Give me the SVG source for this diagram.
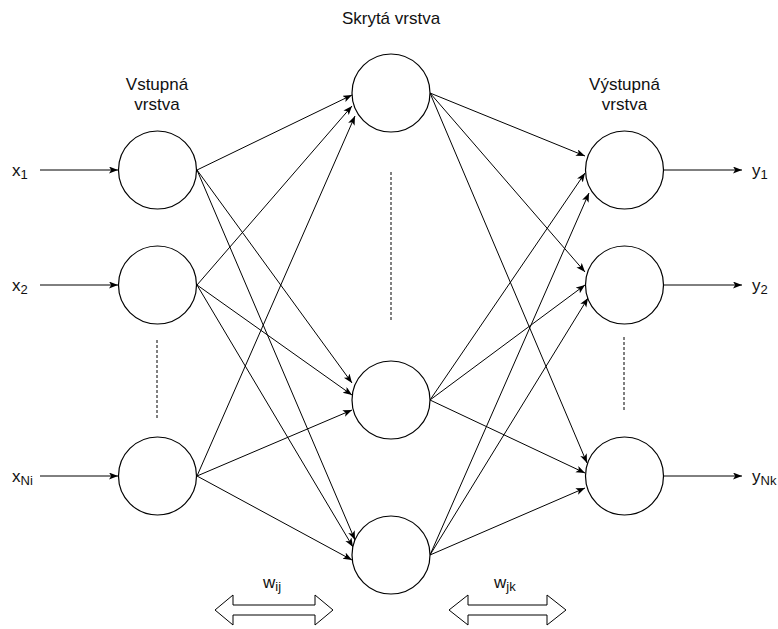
<svg xmlns="http://www.w3.org/2000/svg" width="778" height="629" viewBox="0 0 778 629">
<defs>
<marker id="arr" markerWidth="10" markerHeight="8" refX="9" refY="3.5" orient="auto" markerUnits="userSpaceOnUse"><path d="M0,0 L9,3.5 L0,7 L2.2,3.5 Z" fill="#000"/></marker>
</defs>
<style>
.n{fill:#fff;stroke:#000;stroke-width:1.2}
.e{fill:none;stroke:#000;stroke-width:1;marker-end:url(#arr)}
.d{fill:none;stroke:#000;stroke-width:1;stroke-dasharray:3 2}
.b{fill:#fff;stroke:#000;stroke-width:1}
text{font-family:"Liberation Sans",Arial,sans-serif;font-size:17px;fill:#111}
.m{text-anchor:middle}
.s{font-size:13px}
</style>
<rect width="778" height="629" fill="#fff"/>
<g id="connectors">
<line class="e" x1="40" y1="170" x2="118" y2="170"/>
<line class="e" x1="40" y1="285" x2="118" y2="285"/>
<line class="e" x1="40" y1="476" x2="118" y2="476"/>
<line class="e" x1="197" y1="170" x2="352" y2="95"/>
<line class="e" x1="197" y1="285" x2="352" y2="106"/>
<line class="e" x1="197" y1="476" x2="355" y2="116"/>
<line class="e" x1="197" y1="170" x2="352" y2="383"/>
<line class="e" x1="197" y1="285" x2="352" y2="395"/>
<line class="e" x1="197" y1="476" x2="352" y2="410"/>
<line class="e" x1="197" y1="170" x2="355" y2="540"/>
<line class="e" x1="197" y1="285" x2="353" y2="547"/>
<line class="e" x1="197" y1="476" x2="352" y2="560"/>
<line class="e" x1="430" y1="93" x2="585" y2="156"/>
<line class="e" x1="430" y1="400" x2="585" y2="173"/>
<line class="e" x1="430" y1="555" x2="589" y2="193"/>
<line class="e" x1="430" y1="93" x2="585" y2="272"/>
<line class="e" x1="430" y1="400" x2="585" y2="285"/>
<line class="e" x1="430" y1="555" x2="588" y2="298"/>
<line class="e" x1="430" y1="93" x2="587" y2="463"/>
<line class="e" x1="430" y1="400" x2="585" y2="473"/>
<line class="e" x1="430" y1="555" x2="585" y2="488"/>
<line class="e" x1="663" y1="170" x2="742" y2="170"/>
<line class="e" x1="663" y1="285" x2="742" y2="285"/>
<line class="e" x1="663" y1="476" x2="742" y2="476"/>
<line class="d" x1="157" y1="340" x2="157" y2="418"/>
<line class="d" x1="391" y1="172" x2="391" y2="322"/>
<line class="d" x1="624" y1="337" x2="624" y2="412"/>
</g>
<g id="in1"><circle class="n" cx="157.5" cy="170" r="39"/></g>
<g id="in2"><circle class="n" cx="157.5" cy="285" r="39"/></g>
<g id="inN"><circle class="n" cx="157.5" cy="476" r="39"/></g>
<g id="h1"><circle class="n" cx="391" cy="93" r="39"/></g>
<g id="h2"><circle class="n" cx="391" cy="400" r="39"/></g>
<g id="h3"><circle class="n" cx="391" cy="555" r="39"/></g>
<g id="out1"><circle class="n" cx="624.5" cy="170" r="39"/></g>
<g id="out2"><circle class="n" cx="624.5" cy="285" r="39"/></g>
<g id="outN"><circle class="n" cx="624.5" cy="476" r="39"/></g>
<g id="wij"><polygon class="b" points="215,610 233,595 233,605 315,605 315,595 333,610 315,625 315,615 233,615 233,625"/><text x="263" y="588">w<tspan class="s" dy="3">ij</tspan></text></g>
<g id="wjk"><polygon class="b" points="449,610 468,595 468,605 547,605 547,595 566,610 547,625 547,615 468,615 468,625"/><text x="494" y="588">w<tspan class="s" dy="3">jk</tspan></text></g>
<g id="labels">
<text class="m" x="391" y="24">Skrytá vrstva</text>
<text class="m" x="157" y="90">Vstupná</text>
<text class="m" x="157" y="110">vrstva</text>
<text class="m" x="624.5" y="90">Výstupná</text>
<text class="m" x="624.5" y="110">vrstva</text>
<text x="12" y="176">x<tspan class="s" dy="3">1</tspan></text>
<text x="12" y="291">x<tspan class="s" dy="3">2</tspan></text>
<text x="12" y="482">x<tspan class="s" dy="3">Ni</tspan></text>
<text x="752" y="176">y<tspan class="s" dy="3">1</tspan></text>
<text x="752" y="291">y<tspan class="s" dy="3">2</tspan></text>
<text x="752" y="482">y<tspan class="s" dy="3">Nk</tspan></text>
</g>
</svg>
